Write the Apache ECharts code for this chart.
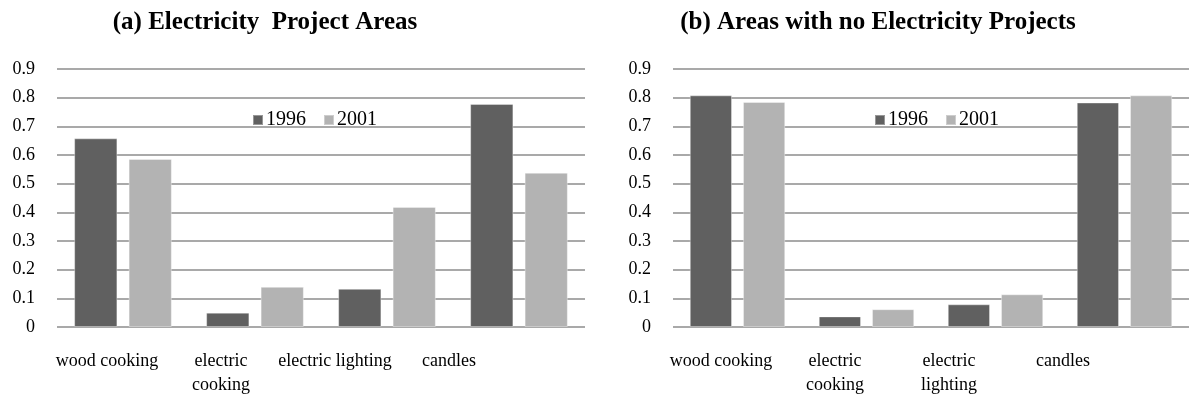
<!DOCTYPE html>
<html>
<head>
<meta charset="utf-8">
<script src="https://cdn.jsdelivr.net/npm/echarts@6/dist/echarts.min.js"></script>
<style>
html,body{margin:0;padding:0;background:#fff;}
#chart{width:1189px;height:403px;}
</style>
</head>
<body>
<div id="chart"></div>
<script>
// ---- data ----
const titleA = '(a) Electricity  Project Areas';
const titleB = '(b) Areas with no Electricity Projects';
const seriesNames = ['1996', '2001'];
const categoriesA = ['wood cooking', 'electric\ncooking', 'electric lighting', 'candles'];
const categoriesB = ['wood cooking', 'electric\ncooking', 'electric\nlighting', 'candles'];
const a1996 = [0.658, 0.05, 0.133, 0.778];
const a2001 = [0.586, 0.14, 0.419, 0.538];
const b1996 = [0.808, 0.037, 0.079, 0.783];
const b2001 = [0.785, 0.062, 0.114, 0.808];
const yTicks = ['0', '0.1', '0.2', '0.3', '0.4', '0.5', '0.6', '0.7', '0.8', '0.9'];

// ---- styles ----
const FONT = '"Liberation Serif", "Times New Roman", serif';
const C1 = '#606060', C2 = '#b3b3b3';
const GRIDC = '#8c8c8c';

const chart = echarts.init(document.getElementById('chart'));

function valueAxis(gridIndex) {
  return {
    type: 'value', gridIndex: gridIndex, min: 0, max: 0.9, interval: 0.1,
    axisLine: {show: false}, axisTick: {show: false},
    axisLabel: {
      color: '#000', fontFamily: FONT, fontSize: 18, margin: 22,
      formatter: function (v) { return yTicks[Math.round(v * 10)]; }
    },
    splitLine: {lineStyle: {color: GRIDC, width: 1.5}}
  };
}
function hiddenValueAxis(gridIndex) {
  return {type: 'value', gridIndex: gridIndex, show: false, splitLine: {show: false}};
}
function barCatAxis(gridIndex, cats) {
  return {
    type: 'category', gridIndex: gridIndex, data: cats,
    axisLine: {show: false}, axisTick: {show: false}, axisLabel: {show: false}
  };
}
function labelCatAxis(gridIndex, cats) {
  return {
    type: 'category', gridIndex: gridIndex, data: cats,
    axisLine: {show: false}, axisTick: {show: false},
    axisLabel: {color: '#000', fontFamily: FONT, fontSize: 18, lineHeight: 24, margin: 22, interval: 0}
  };
}
function bar(name, data, idx, color) {
  return {
    name: name, type: 'bar', data: data, xAxisIndex: idx, yAxisIndex: idx,
    barGap: '26%', barCategoryGap: '26%',
    itemStyle: {color: color, borderColor: 'rgba(255,255,255,0.35)', borderWidth: 1}, animation: false
  };
}

chart.setOption({
  animation: false,
  title: [
    {text: titleA, left: 260, top: 5, textAlign: 'center',
     textStyle: {fontFamily: FONT, fontWeight: 'bold', fontSize: 25, color: '#000'}},
    {text: titleB, left: 873, top: 5, textAlign: 'center',
     textStyle: {fontFamily: FONT, fontWeight: 'bold', fontSize: 25, color: '#000'}}
  ],
  legend: [
    {data: seriesNames, left: 247, top: 105, icon: 'rect', itemWidth: 10, itemHeight: 10, itemGap: 17,
     textStyle: {fontFamily: FONT, fontSize: 20, color: '#000', padding: [0, 0, 0, -2]}},
    {data: seriesNames, left: 869, top: 105, icon: 'rect', itemWidth: 10, itemHeight: 10, itemGap: 17,
     textStyle: {fontFamily: FONT, fontSize: 20, color: '#000', padding: [0, 0, 0, -2]}}
  ],
  grid: [
    {left: 57, top: 69, width: 528, height: 258},
    {left: 673, top: 69, width: 517, height: 258},
    {left: 50, top: 326, width: 456, height: 1},
    {left: 664, top: 326, width: 456, height: 1}
  ],
  xAxis: [
    barCatAxis(0, categoriesA),
    barCatAxis(1, categoriesB),
    labelCatAxis(2, categoriesA),
    labelCatAxis(3, categoriesB)
  ],
  yAxis: [
    valueAxis(0), valueAxis(1), hiddenValueAxis(2), hiddenValueAxis(3)
  ],
  series: [
    bar(seriesNames[0], a1996, 0, C1),
    bar(seriesNames[1], a2001, 0, C2),
    bar(seriesNames[0], b1996, 1, C1),
    bar(seriesNames[1], b2001, 1, C2)
  ]
});
</script>
</body>
</html>
